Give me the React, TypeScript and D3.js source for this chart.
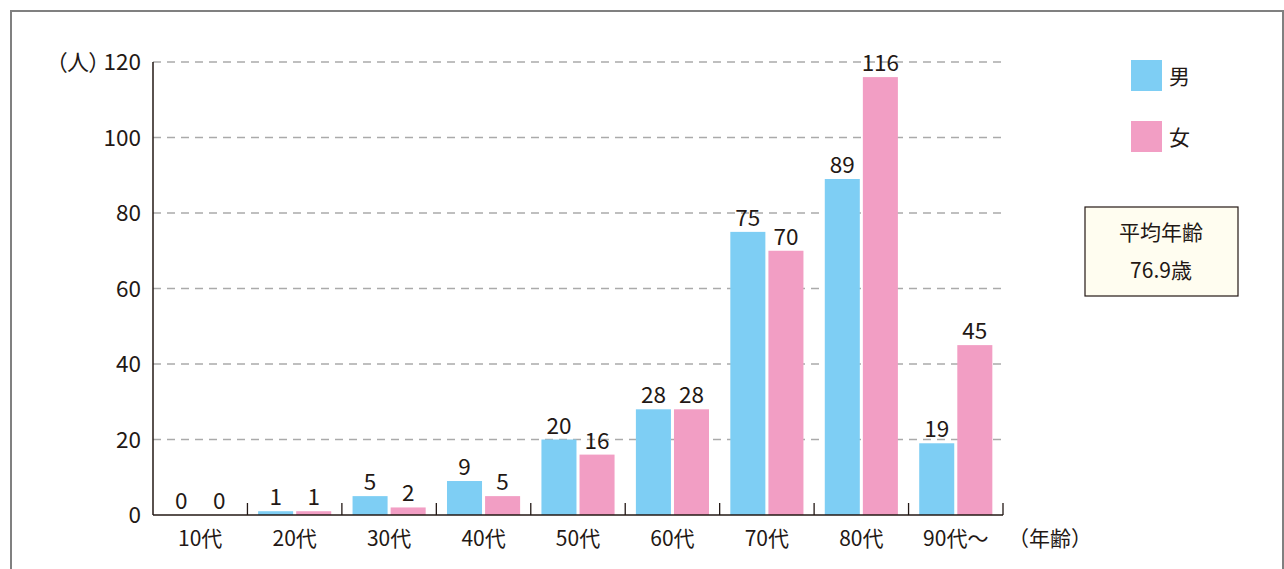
import React from "react";
import * as d3 from "d3";

const categories = ["10代", "20代", "30代", "40代", "50代", "60代", "70代", "80代", "90代～"];
const maleValues = [0, 1, 5, 9, 20, 28, 75, 89, 19];
const femaleValues = [0, 1, 2, 5, 16, 28, 70, 116, 45];
const yTicks = [0, 20, 40, 60, 80, 100, 120];
const seriesNames = ["男", "女"];
const avgTitle = "平均年齢";
const avgValue = "76.9歳";

const W = 1284;
const H = 569;
const FONT = "'Noto Sans CJK JP', 'Noto Sans', sans-serif";
const colors = ["#7ecef4", "#f29ec4"];
const ink = "#231815";

export default function App() {
  const left = 153, right = 1003, top = 62, bottom = 515;
  const x = d3.scaleBand<string>().domain(categories).range([left, right]).paddingInner(0).paddingOuter(0);
  const y = d3.scaleLinear().domain([0, 120]).range([bottom, top]);
  const inner = d3.scaleBand<number>().domain([0, 1]).range([0, x.bandwidth()]).paddingInner(0.08).paddingOuter(0.28);
  const series = [maleValues, femaleValues];

  return (
    <svg width={W} height={H} style={{ position: "absolute", left: 0, top: 0, background: "#fff" }} fontFamily={FONT}>
      <rect x={11} y={11} width={1272} height={600} fill="none" stroke="#808080" strokeWidth={2} />
      {yTicks.filter(t => t > 0).map(t => (
        <line key={t} x1={left} x2={right} y1={y(t)} y2={y(t)} stroke="#aaaaaa" strokeWidth={1.3} strokeDasharray="8 6" />
      ))}
      {yTicks.map(t => (
        <text key={t} x={141} y={y(t)} dy="0.36em" textAnchor="end" fontSize={22.5} fill={ink}>{t}</text>
      ))}
      <text x={100} y={y(120)} dy="0.36em" textAnchor="end" fontSize={22} fill={ink} style={{ fontFeatureSettings: "'palt'" }}>（人）</text>
      {categories.map((c, i) => (
        <g key={c}>
          {series.map((vals, s) => {
            const bx = (x(c) as number) + (inner(s) as number);
            const v = vals[i];
            return (
              <g key={s}>
                {v > 0 && <rect x={bx} y={y(v)} width={inner.bandwidth()} height={y(0) - y(v)} fill={colors[s]} />}
                <text x={bx + inner.bandwidth() / 2} y={y(v) - 6} textAnchor="middle" fontSize={22.5} fill={ink}>{v}</text>
              </g>
            );
          })}
          <text x={(x(c) as number) + x.bandwidth() / 2} y={546} textAnchor="middle" fontSize={21} fill={ink}>{c}</text>
          <line x1={(x(c) as number) + x.bandwidth()} x2={(x(c) as number) + x.bandwidth()} y1={bottom} y2={bottom - 12} stroke={ink} strokeWidth={1.3} />
        </g>
      ))}
      <line x1={left} x2={left} y1={top} y2={bottom} stroke={ink} strokeWidth={1.5} />
      <line x1={left} x2={right} y1={bottom} y2={bottom} stroke={ink} strokeWidth={1.5} />
      <text x={1008} y={546} textAnchor="start" fontSize={21} fill={ink}>（年齢）</text>
      {seriesNames.map((n, s) => (
        <g key={n}>
          <rect x={1131} y={60 + s * 61} width={31} height={31} fill={colors[s]} />
          <text x={1169} y={76 + s * 61} dy="0.36em" fontSize={21} fill={ink}>{n}</text>
        </g>
      ))}
      <rect x={1085} y={207} width={153} height={89} fill="#fffdf0" stroke={ink} strokeWidth={1.2} />
      <text x={1161} y={232} dy="0.36em" textAnchor="middle" fontSize={21} fill={ink}>{avgTitle}</text>
      <text x={1161} y={270} dy="0.36em" textAnchor="middle" fontSize={21} fill={ink}>{avgValue}</text>
    </svg>
  );
}
